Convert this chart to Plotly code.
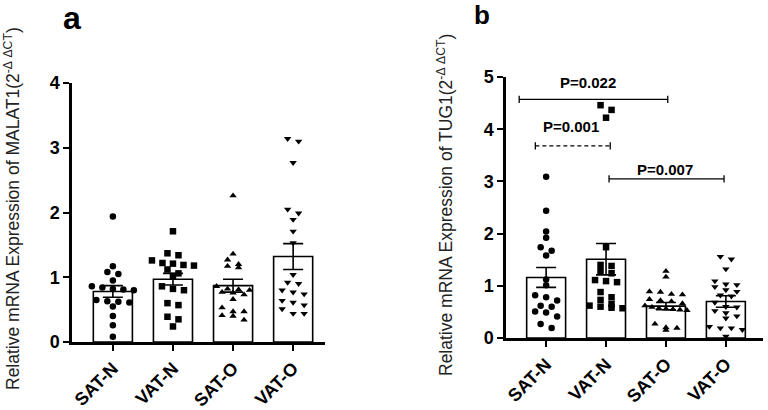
import numpy as np
import plotly.graph_objects as go

categories = ["SAT-N", "VAT-N", "SAT-O", "VAT-O"]

# ---- Panel a: MALAT1 ----
malat1_sat_n = [1.94, 1.17, 1.08, 1.05, 0.95, 0.86, 0.84, 0.82, 0.81, 0.80,
                0.65, 0.63, 0.62, 0.61, 0.55, 0.40, 0.26, 0.08]
malat1_vat_n = [1.71, 1.37, 1.34, 1.26, 1.22, 1.21, 1.19, 1.18, 1.12, 1.06,
                1.02, 0.86, 0.82, 0.80, 0.60, 0.57, 0.39, 0.35, 0.24]
malat1_sat_o = [2.26, 1.36, 1.27, 1.20, 1.17, 1.15, 0.86, 0.82, 0.81, 0.80,
                0.77, 0.76, 0.73, 0.66, 0.53, 0.47, 0.47, 0.41, 0.40, 0.34]
malat1_vat_o = [3.14, 3.10, 2.77, 2.05, 1.99, 1.89, 1.71, 1.53, 1.04, 0.92,
                0.90, 0.80, 0.77, 0.74, 0.64, 0.61, 0.57, 0.51, 0.44, 0.44]
malat1_mean = [0.78, 0.97, 0.87, 1.32]
malat1_sem = [0.09, 0.09, 0.10, 0.20]

# ---- Panel b: TUG1 ----
tug1_sat_n = [3.09, 2.44, 2.04, 1.92, 1.74, 1.67, 1.58, 1.12, 1.01, 0.82,
              0.78, 0.72, 0.62, 0.60, 0.51, 0.49, 0.41, 0.27, 0.19]
tug1_vat_n = [4.46, 4.37, 4.22, 1.74, 1.40, 1.38, 1.28, 1.24, 1.11, 1.09,
              1.07, 0.88, 0.78, 0.73, 0.65, 0.62, 0.60, 0.58, 0.57]
tug1_sat_o = [1.28, 1.17, 0.89, 0.88, 0.84, 0.83, 0.74, 0.72, 0.70, 0.66,
              0.62, 0.59, 0.57, 0.56, 0.55, 0.54, 0.53, 0.27, 0.20, 0.19, 0.15]
tug1_vat_o = [1.56, 1.51, 1.32, 1.09, 1.03, 1.02, 0.98, 0.92, 0.89, 0.82,
              0.80, 0.68, 0.60, 0.59, 0.52, 0.48, 0.42, 0.38, 0.22, 0.19,
              0.19, 0.16, 0.03]
tug1_mean = [1.16, 1.51, 0.61, 0.70]
tug1_sem = [0.19, 0.30, 0.07, 0.11]

# significance brackets for panel b
bracket_labels = ["P=0.022", "P=0.001", "P=0.007"]
bracket_x0 = [-0.45, -0.18, 1.05]
bracket_x1 = [2.03, 1.07, 2.97]
bracket_y = [4.57, 3.68, 3.05]
bracket_text_x = [0.70, 0.41, 1.98]
bracket_text_y = [4.90, 4.06, 3.22]
bracket_dashed = [False, True, False]

symbols = ["circle", "square", "triangle-up", "triangle-down"]

# ---- geometry ----
W, H = 768, 410
A_XPX, A_YPX = (72, 325), (83, 342)
B_XPX, B_YPX = (506, 763), (77, 338)
A_XR, A_YR = [-0.68, 3.53], [0, 4]
B_XR, B_YR = [-0.67, 3.62], [0, 5]

def xdom(px):
    return [px[0] / W, px[1] / W]

def ydom(px):
    return [(H - px[1]) / H, (H - px[0]) / H]

FONT = "Liberation Sans, Arial, sans-serif"


def swarm(values, px_per_unit, px_per_cat, dx_px=11.0, row_px=5.5, max_half_px=21.0):
    vals = np.asarray(values, float)
    order = np.argsort(-vals, kind="stable")
    groups, cur = [], [order[0]]
    for idx in order[1:]:
        if (vals[cur[0]] - vals[idx]) * px_per_unit < row_px:
            cur.append(idx)
        else:
            groups.append(cur)
            cur = [idx]
    groups.append(cur)
    off = np.zeros(len(vals))
    for g in groups:
        n = len(g)
        step = dx_px if n == 1 else min(dx_px, 2 * max_half_px / (n - 1))
        for k, idx in enumerate(g):
            off[idx] = (k - (n - 1) / 2) * step
    return off / px_per_cat


fig = go.Figure()

panels = [
    ("x", "y", [malat1_sat_n, malat1_vat_n, malat1_sat_o, malat1_vat_o],
     malat1_mean, malat1_sem, A_XPX, A_YPX, A_XR, A_YR),
    ("x2", "y2", [tug1_sat_n, tug1_vat_n, tug1_sat_o, tug1_vat_o],
     tug1_mean, tug1_sem, B_XPX, B_YPX, B_XR, B_YR),
]

for xa, ya, groups, means, sems, xpx, ypx, xr, yr in panels:
    px_per_unit = (ypx[1] - ypx[0]) / (yr[1] - yr[0])
    px_per_cat = (xpx[1] - xpx[0]) / (xr[1] - xr[0])
    fig.add_trace(go.Bar(
        x=list(range(len(categories))), y=means, width=0.65,
        marker=dict(color="white", line=dict(color="black", width=1.6)),
        error_y=dict(type="data", array=sems, visible=True, color="black",
                     thickness=1.6, width=10),
        xaxis=xa, yaxis=ya, showlegend=False, hoverinfo="skip"))
    for i, vals in enumerate(groups):
        offs = swarm(vals, px_per_unit, px_per_cat)
        fig.add_trace(go.Scatter(
            x=i + offs, y=vals, mode="markers",
            marker=dict(symbol=symbols[i], size=6.5, color="black",
                        line=dict(width=0)),
            xaxis=xa, yaxis=ya, showlegend=False, hoverinfo="skip"))

# brackets
for lab, x0, x1, yv, tx, ty, dashed in zip(bracket_labels, bracket_x0, bracket_x1,
                                           bracket_y, bracket_text_x, bracket_text_y,
                                           bracket_dashed):
    ln = dict(color="black", width=1.3, dash="4px,3px" if dashed else "solid")
    fig.add_shape(type="line", xref="x2", yref="y2", x0=x0, x1=x1, y0=yv, y1=yv, line=ln)
    for xe in (x0, x1):
        fig.add_shape(type="line", xref="x2", yref="y2", x0=xe, x1=xe,
                      y0=yv - 0.07, y1=yv + 0.07, line=dict(color="black", width=1.3))
    fig.add_annotation(xref="x2", yref="y2", x=tx, y=ty, text=lab, showarrow=False,
                       xanchor="center", yanchor="middle",
                       font=dict(family=FONT, size=15, color="black", weight="bold"))

axis_common = dict(showline=True, linecolor="black", linewidth=2.5, ticks="outside",
                   ticklen=6, tickwidth=2, tickcolor="black", showgrid=False,
                   zeroline=False, automargin=False,
                   tickfont=dict(family=FONT, size=18, color="black", weight="bold"))

fig.update_layout(
    template="none",
    width=W, height=H, margin=dict(l=0, r=0, t=0, b=0, pad=0),
    paper_bgcolor="white", plot_bgcolor="white",
    xaxis=dict(domain=xdom(A_XPX), range=A_XR, anchor="y",
               tickvals=list(range(4)), ticktext=categories, tickangle=-45,
               **axis_common),
    yaxis=dict(domain=ydom(A_YPX), range=A_YR, anchor="x",
               tickvals=[0, 1, 2, 3, 4], **axis_common),
    xaxis2=dict(domain=xdom(B_XPX), range=B_XR, anchor="y2",
                tickvals=list(range(4)), ticktext=categories, tickangle=-45,
                **axis_common),
    yaxis2=dict(domain=ydom(B_YPX), range=B_YR, anchor="x2",
                tickvals=[0, 1, 2, 3, 4, 5], **axis_common),
)

# axis titles and panel letters
fig.add_annotation(xref="paper", yref="paper", x=12 / W, y=(H - 209) / H,
                   xanchor="center", yanchor="middle",
                   text="Relative mRNA Expression of MALAT1(2<sup>-Δ&nbsp;ΔCT</sup>)",
                   textangle=-90, showarrow=False,
                   font=dict(family=FONT, size=17.5, color="#222"))
fig.add_annotation(xref="paper", yref="paper", x=445 / W, y=(H - 205) / H,
                   xanchor="center", yanchor="middle",
                   text="Relative mRNA Expression of TUG1(2<sup>-Δ&nbsp;ΔCT</sup>)",
                   textangle=-90, showarrow=False,
                   font=dict(family=FONT, size=17.5, color="#222"))
fig.add_annotation(xref="paper", yref="paper", x=72 / W, y=1 - 18 / H, text="a",
                   xanchor="center", yanchor="middle", showarrow=False,
                   font=dict(family=FONT, size=32, color="black", weight="bold"))
fig.add_annotation(xref="paper", yref="paper", x=482 / W, y=1 - 15 / H, text="b",
                   xanchor="center", yanchor="middle", showarrow=False,
                   font=dict(family=FONT, size=26, color="black", weight="bold"))

fig.write_html("out.html", config={"displayModeBar": False},
               post_script="document.body.style.margin='0';document.body.style.overflow='hidden';")
